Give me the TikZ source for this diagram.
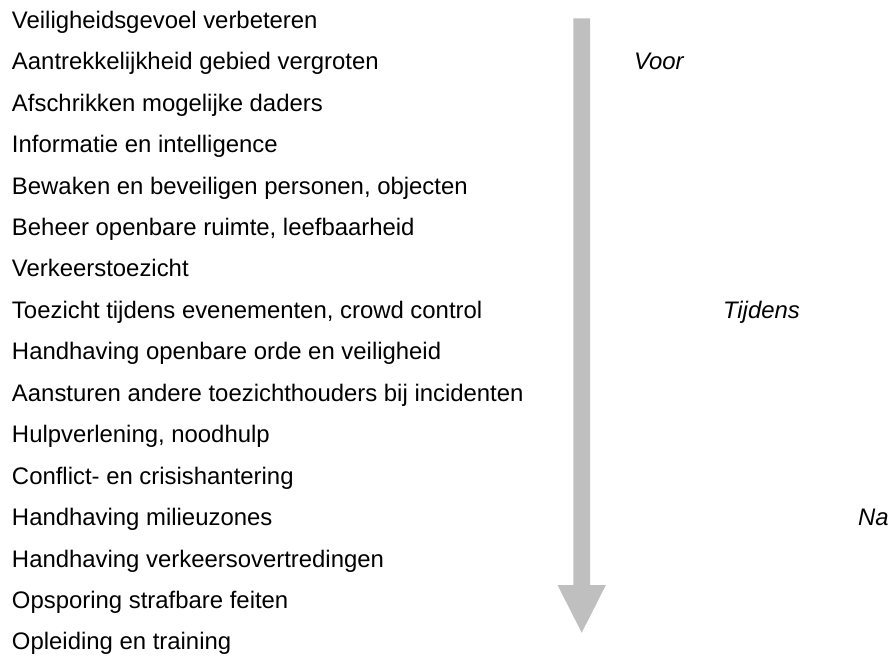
\documentclass[tikz,border=0pt]{standalone}
\usepackage{fontspec}
\setmainfont{Liberation Sans}
\usetikzlibrary{positioning,calc}
\definecolor{arrow_color}{RGB}{191,191,191}
\tikzset{
  item/.style={
    anchor=base west, inner sep=0pt, outer sep=0pt,
    font=\fontsize{23.9pt}{28pt}\selectfont
  },
  phase/.style={
    item, font=\fontsize{23.9pt}{28pt}\selectfont\itshape
  },
  timearrow/.style={fill=arrow_color, draw=none}
}

\begin{document}
\begin{tikzpicture}

\useasboundingbox (0,0) rectangle (888pt,-657pt);

\node[item] (item1) at (12pt,-28.3pt) {Veiligheidsgevoel verbeteren};
\node[item] (item2) at (12pt,-69.7pt) {Aantrekkelijkheid gebied vergroten};
\node[item] (item3) at (12pt,-111.2pt) {Afschrikken mogelijke daders};
\node[item] (item4) at (12pt,-152.6pt) {Informatie en intelligence};
\node[item] (item5) at (12pt,-194.1pt) {Bewaken en beveiligen personen, objecten};
\node[item] (item6) at (12pt,-235.5pt) {Beheer openbare ruimte, leefbaarheid};
\node[item] (item7) at (12pt,-276.9pt) {Verkeerstoezicht};
\node[item] (item8) at (12pt,-318.4pt) {Toezicht tijdens evenementen, crowd control};
\node[item] (item9) at (12pt,-359.8pt) {Handhaving openbare orde en veiligheid};
\node[item] (item10) at (12pt,-401.3pt) {Aansturen andere toezichthouders bij incidenten};
\node[item] (item11) at (12pt,-442.7pt) {Hulpverlening, noodhulp};
\node[item] (item12) at (12pt,-484.1pt) {Conflict- en crisishantering};
\node[item] (item13) at (12pt,-525.6pt) {Handhaving milieuzones};
\node[item] (item14) at (12pt,-567.0pt) {Handhaving verkeersovertredingen};
\node[item] (item15) at (12pt,-608.5pt) {Opsporing strafbare feiten};
\node[item] (item16) at (12pt,-649.9pt) {Opleiding en training};

\node[phase] (voor) at (634pt,-69.7pt) {Voor};
\node[phase] (tijdens) at (723pt,-318.4pt) {Tijdens};
\node[phase] (na) at (858pt,-525.6pt) {Na};

% time arrow
\coordinate (arrow_top) at (581.7pt,-18.3pt);
\coordinate (arrow_tip) at (581.7pt,-632.7pt);
\fill[timearrow] ($(arrow_top) + (-8.35pt,0)$) -- ($(arrow_top) + (8.35pt,0)$)
  -- ($(arrow_tip) + (8.35pt,47.7pt)$) -- ($(arrow_tip) + (24.2pt,47.7pt)$)
  -- (arrow_tip)
  -- ($(arrow_tip) + (-24.2pt,47.7pt)$) -- ($(arrow_tip) + (-8.35pt,47.7pt)$) -- cycle;

\end{tikzpicture}
\end{document}
